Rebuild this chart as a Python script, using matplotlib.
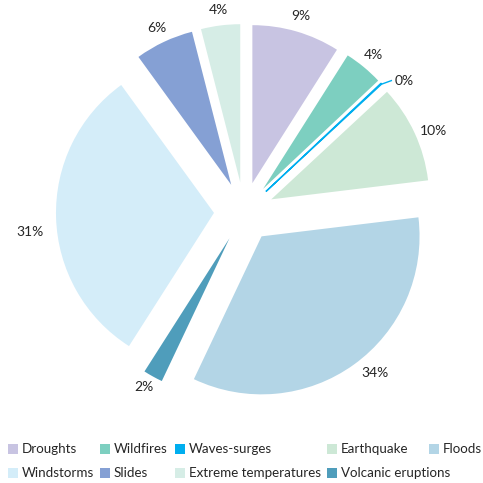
import numpy as np
import matplotlib
matplotlib.use("Agg")
import matplotlib.pyplot as plt
from matplotlib.patches import Rectangle

plt.rcParams['font.family'] = ['Lato', 'DejaVu Sans']

categories = ['Droughts', 'Wildfires', 'Waves-surges', 'Earthquake', 'Floods',
              'Volcanic eruptions', 'Windstorms', 'Slides', 'Extreme temperatures']
values = [9, 4, 0.1, 10, 34, 2, 31, 6, 4]
pct_labels = ['9%', '4%', '0%', '10%', '34%', '2%', '31%', '6%', '4%']
colors = ['#c8c4e2', '#7dcfc0', '#00aeef', '#cde8d6', '#b3d5e6',
          '#4f9dbb', '#d4edf9', '#85a0d4', '#d6ede6']

W = H = 483
fig = plt.figure(figsize=(4.83, 4.83), dpi=100)
ax = fig.add_axes([0, 0, 1, 1])
scale = 158.0
cx, cy = 244, 212
txt_color = '#262626'

wedges, texts = ax.pie(values, labels=pct_labels, colors=colors, startangle=90,
                       counterclock=False, explode=[0.19] * len(values),
                       labeldistance=1.1, radius=1,
                       textprops=dict(fontsize=10, color=txt_color))
ax.set_xlim(-cx / scale, (W - cx) / scale)
ax.set_ylim(-(H - cy) / scale, cy / scale)
ax.set_aspect('equal')
ax.axis('off')

# small nudges of the label positions (pixels: right, down)
nudges = {'10%': (5, 5), '34%': (12, -4), '31%': (-10, 14), '2%': (-1, -3)}
for t in texts:
    t.set_ha('center')
    if t.get_text() in nudges:
        dx, dy = nudges[t.get_text()]
        x, y = t.get_position()
        t.set_position((x + dx / scale, y - dy / scale))

# thin waves-surges slice drawn as a line, with a short leader to its label
w = wedges[2]
w.set_edgecolor('#00aeef')
w.set_linewidth(1.0)
ang = np.deg2rad((w.theta1 + w.theta2) / 2)
x0 = w.center[0] + w.r * np.cos(ang)
y0 = w.center[1] + w.r * np.sin(ang)
x1, y1 = x0 + 10 / scale, y0 + 3 / scale
ax.plot([x0 - 1 / scale, x1], [y0 - 1 / scale, y1], color='#00aeef', lw=1.0)
texts[2].set_position((x1 + 3 / scale, y1))
texts[2].set_ha('left')

# legend laid out like the original (flowing rows)
legend_rows = [
    [('Droughts', 8), ('Wildfires', 100), ('Waves-surges', 175), ('Earthquake', 327), ('Floods', 429)],
    [('Windstorms', 8), ('Slides', 100), ('Extreme temperatures', 175), ('Volcanic eruptions', 327)],
]
row_y = [449, 473]
for row, yy in zip(legend_rows, row_y):
    for name, xx in row:
        c = colors[categories.index(name)]
        fig.patches.append(Rectangle(((xx) / W, 1 - (yy + 5) / H), 10 / W, 10 / H,
                                     transform=fig.transFigure, facecolor=c, edgecolor='none'))
        fig.text((xx + 14) / W, 1 - yy / H, name, fontsize=9.6, color=txt_color,
                 ha='left', va='center')

fig.savefig('out.png', dpi=100)
